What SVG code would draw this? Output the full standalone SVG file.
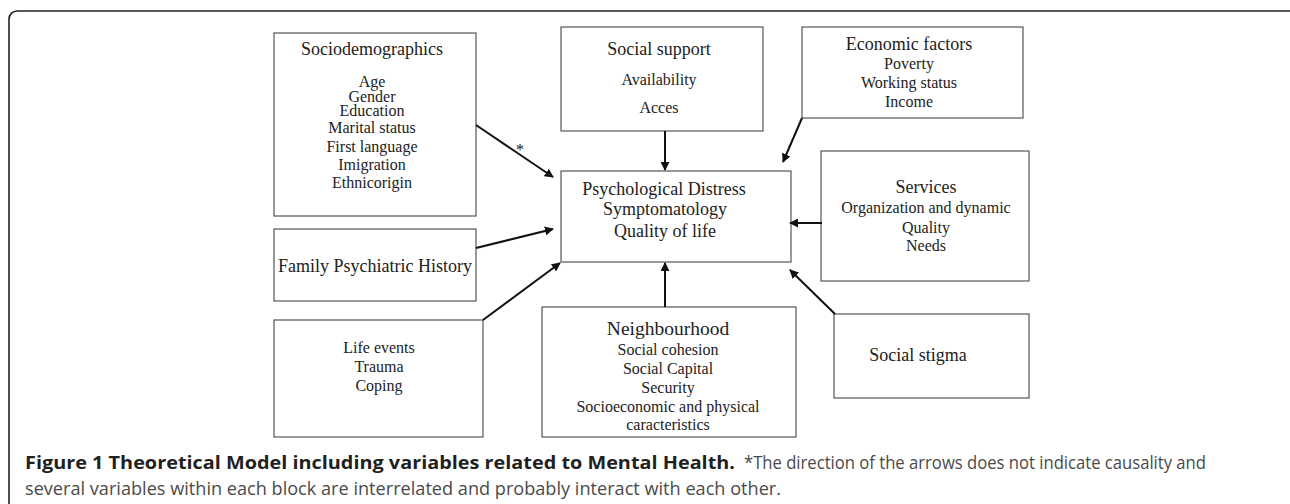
<svg xmlns="http://www.w3.org/2000/svg" width="1290" height="504" viewBox="0 0 1290 504">
<defs>
<style>
.box{fill:#fff;stroke:#555;stroke-width:1.2}
.t{font-family:"Liberation Serif","Times New Roman",serif;fill:#222;text-anchor:middle}
.h{font-size:18px}
.s{font-size:16px}
.c{stroke:#111;stroke-width:2;fill:none;marker-end:url(#ah)}
.cap{font-family:"Open Sans","Noto Sans",sans-serif;font-size:17.5px}
</style>
<marker id="ah" viewBox="0 0 10 10" refX="9" refY="5" markerWidth="4.5" markerHeight="4.5" markerUnits="strokeWidth" orient="auto">
<path d="M0,0 L10,5 L0,10 z" fill="#111"/>
</marker>
</defs>
<rect x="9" y="11" width="1290" height="510" rx="8" fill="#fff" stroke="#222" stroke-width="1.6"/>

<g id="sociodemographics">
<rect class="box" x="274" y="33" width="202" height="183"/>
<text class="t h" x="372" y="55">Sociodemographics</text>
<text class="t s" x="372" y="87">Age</text>
<text class="t s" x="372" y="102">Gender</text>
<text class="t s" x="372" y="116">Education</text>
<text class="t s" x="372" y="133">Marital status</text>
<text class="t s" x="372" y="152">First language</text>
<text class="t s" x="372" y="170">Imigration</text>
<text class="t s" x="372" y="188">Ethnicorigin</text>
</g>

<g id="family">
<rect class="box" x="274" y="229" width="202" height="72"/>
<text class="t h" x="375" y="272">Family Psychiatric History</text>
</g>

<g id="lifeevents">
<rect class="box" x="274" y="320" width="209" height="117"/>
<text class="t s" x="379" y="353">Life events</text>
<text class="t s" x="379" y="372">Trauma</text>
<text class="t s" x="379" y="391">Coping</text>
</g>

<g id="socialsupport">
<rect class="box" x="561" y="27" width="202" height="104"/>
<text class="t h" x="659" y="55">Social support</text>
<text class="t s" x="659" y="85">Availability</text>
<text class="t s" x="659" y="113">Acces</text>
</g>

<g id="economic">
<rect class="box" x="802" y="27" width="221" height="91"/>
<text class="t h" x="909" y="50">Economic factors</text>
<text class="t s" x="909" y="69">Poverty</text>
<text class="t s" x="909" y="88">Working status</text>
<text class="t s" x="909" y="107">Income</text>
</g>

<g id="center">
<rect class="box" x="561" y="171" width="230" height="91"/>
<text class="t h" x="664" y="195">Psychological Distress</text>
<text class="t h" x="665" y="215">Symptomatology</text>
<text class="t h" x="665" y="237">Quality of life</text>
</g>

<g id="services">
<rect class="box" x="821" y="151" width="208" height="130"/>
<text class="t h" x="926" y="193">Services</text>
<text class="t s" x="926" y="213">Organization and dynamic</text>
<text class="t s" x="926" y="233">Quality</text>
<text class="t s" x="926" y="251">Needs</text>
</g>

<g id="stigma">
<rect class="box" x="834" y="314" width="195" height="84"/>
<text class="t h" x="918" y="361">Social stigma</text>
</g>

<g id="neighbourhood">
<rect class="box" x="542" y="307" width="254" height="130"/>
<text class="t" style="font-size:19.5px" x="668" y="335">Neighbourhood</text>
<text class="t s" x="668" y="355">Social cohesion</text>
<text class="t s" x="668" y="374">Social Capital</text>
<text class="t s" x="668" y="393">Security</text>
<text class="t s" x="668" y="412">Socioeconomic and physical</text>
<text class="t s" x="668" y="430">caracteristics</text>
</g>

<g id="connectors">
<line class="c" x1="476" y1="125" x2="553" y2="177"/>
<text class="t" style="font-size:17px" x="520" y="155">*</text>
<line class="c" x1="476" y1="248" x2="553" y2="229"/>
<line class="c" x1="483" y1="320" x2="560" y2="263"/>
<line class="c" x1="665" y1="131" x2="665" y2="170"/>
<line class="c" x1="802" y1="118" x2="783" y2="162"/>
<line class="c" x1="822" y1="223" x2="790" y2="223"/>
<line class="c" x1="835" y1="314" x2="790" y2="270"/>
<line class="c" x1="665" y1="307" x2="665" y2="263"/>
</g>

<g id="caption">
<text class="cap" x="25" y="469" font-weight="bold" fill="#231f20" textLength="710" lengthAdjust="spacingAndGlyphs">Figure 1 Theoretical Model including variables related to Mental Health.</text>
<text class="cap" x="744" y="469" fill="#4a4a4a" textLength="462" lengthAdjust="spacingAndGlyphs">*The direction of the arrows does not indicate causality and</text>
<text class="cap" x="25" y="495" fill="#4a4a4a" textLength="756" lengthAdjust="spacingAndGlyphs">several variables within each block are interrelated and probably interact with each other.</text>
</g>
</svg>
